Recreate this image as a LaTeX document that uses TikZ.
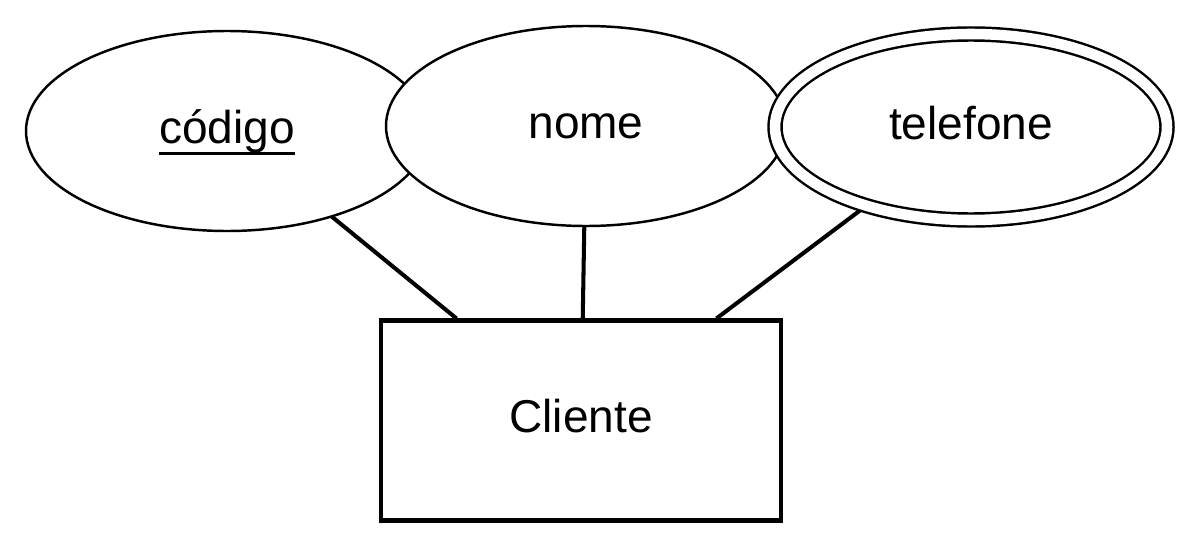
\documentclass[tikz,border=0pt]{standalone}
\usepackage{fontspec}
\setmainfont{Liberation Sans}
\usetikzlibrary{shapes.geometric,backgrounds}
\newlength\largurachave
\newcommand\chave[1]{\settowidth{\largurachave}{#1}\rlap{\rule[-0.25em]{\largurachave}{0.065em}}#1}

\begin{document}
\begin{tikzpicture}
    \tikzstyle{atributo}=[ellipse, draw, fill=white, line width=1.4pt, inner sep=0pt, minimum width=8.04cm, minimum height=4cm, text height=19.5pt, text depth=5.5pt, font=\fontsize{26.2}{31}\selectfont]
    \tikzstyle{multivalorado}=[atributo, double, double distance=6pt, minimum width=7.84cm, minimum height=3.72cm]
    \tikzstyle{entidade}=[rectangle, draw, fill=white, line width=2.3pt, inner sep=0pt, minimum width=8cm, minimum height=4cm, text height=19.5pt, text depth=5.5pt, font=\fontsize{26.2}{31}\selectfont]
    \tikzstyle{ligacao}=[line width=2.3pt]
    \useasboundingbox (0,0) rectangle (24,10.96);
    \node[atributo] (codigo) at (4.54,8.34){\chave{código}};
    \node[atributo, minimum width=8cm] (nome) at (11.72,8.44){nome};
    \node[multivalorado] (telefone) at (19.42,8.42){telefone};
    \node[entidade] (cliente) at (11.62,2.55){Cliente};
    %ligacoes por tras dos atributos
    \begin{scope}[on background layer]
      \draw[ligacao] (codigo.center) -- (cliente);
      \draw[ligacao] (nome.center) -- (cliente);
      \draw[ligacao] (telefone.center) -- (cliente);
    \end{scope}
  \end{tikzpicture}
\end{document}
